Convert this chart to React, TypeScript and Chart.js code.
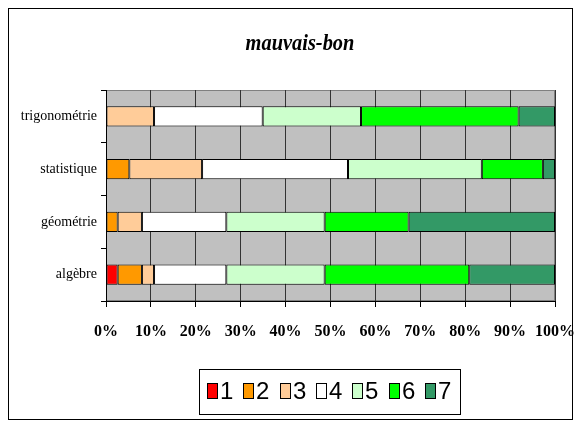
import React, { useEffect, useRef } from "react";
import { Chart, registerables } from "chart.js";

Chart.register(...registerables);

const categories = ["trigonométrie", "statistique", "géométrie", "algèbre"];
const seriesLabels = ["1", "2", "3", "4", "5", "6", "7"];
const seriesColors = ["#FF0000", "#FF9900", "#FFCC99", "#FFFFFF", "#CCFFCC", "#00FF00", "#339966"];
const s1 = [null, null, null, 2.6];
const s2 = [null, 5.2, 2.6, 5.4];
const s3 = [10.7, 16.2, 5.4, 2.7];
const s4 = [24.2, 32.5, 18.8, 16.1];
const s5 = [21.9, 29.8, 21.9, 21.9];
const s6 = [35.1, 13.6, 18.7, 32.2];
const s7 = [8.1, 2.7, 32.6, 19.1];
const seriesValues = [s1, s2, s3, s4, s5, s6, s7];
const xTicks = [0, 10, 20, 30, 40, 50, 60, 70, 80, 90, 100];
const titleText = "mauvais-bon";

const plotBg = {
  id: "plotBg",
  beforeDraw(chart: any) {
    const { ctx, chartArea: a } = chart;
    ctx.save();
    ctx.fillStyle = "#C0C0C0";
    ctx.fillRect(a.left, a.top, a.right - a.left, a.bottom - a.top);
    ctx.strokeStyle = "#808080";
    ctx.lineWidth = 1;
    ctx.strokeRect(a.left + 0.5, a.top + 0.5, a.right - a.left - 1, a.bottom - a.top - 1);
    ctx.restore();
  },
};

const frameTitleLegend = {
  id: "frameTitleLegend",
  afterDraw(chart: any) {
    const ctx = chart.ctx;
    ctx.save();
    ctx.strokeStyle = "#000";
    ctx.lineWidth = 1;
    ctx.strokeRect(8.5, 8.5, 564, 411);
    // title (slightly condensed)
    ctx.save();
    ctx.translate(300, 44);
    ctx.scale(0.85, 1);
    ctx.font = "italic bold 24px 'Liberation Serif', serif";
    ctx.textAlign = "center";
    ctx.textBaseline = "middle";
    ctx.fillStyle = "#000";
    ctx.fillText(titleText, 0, 0);
    ctx.restore();
    // legend box
    ctx.strokeRect(199.5, 369.5, 261, 45);
    ctx.font = "24px 'Liberation Sans', Arial, sans-serif";
    ctx.textBaseline = "middle";
    ctx.textAlign = "left";
    chart.data.datasets.forEach((ds: any, i: number) => {
      const bx = Math.round(207 + 36.3 * i);
      ctx.fillStyle = ds.backgroundColor;
      ctx.fillRect(bx, 383, 11, 16);
      ctx.strokeStyle = "#000";
      ctx.strokeRect(bx + 0.5, 383.5, 10, 15);
      ctx.fillStyle = "#000";
      ctx.fillText(ds.label, bx + 13, 392);
    });
    ctx.restore();
  },
};

export default function App() {
  const ref = useRef<HTMLCanvasElement>(null);
  useEffect(() => {
    if (!ref.current) return;
    const chart = new Chart(ref.current, {
      type: "bar",
      data: {
        labels: categories,
        datasets: seriesValues.map((vals, i) => ({
          label: seriesLabels[i],
          data: vals,
          backgroundColor: seriesColors[i],
          borderColor: "#000",
          borderWidth: 1,
          borderSkipped: false,
          barPercentage: 0.38,
          categoryPercentage: 1,
        })),
      },
      options: {
        indexAxis: "y",
        animation: false,
        responsive: false,
        layout: { padding: { left: 0, right: 26, top: 90, bottom: 80 } },
        plugins: {
          legend: { display: false },
          tooltip: { enabled: false },
          title: { display: false },
        },
        scales: {
          x: {
            stacked: true,
            min: 0,
            max: 100,
            afterBuildTicks: (scale: any) => {
              scale.ticks = xTicks.map((v) => ({ value: v }));
            },
            afterFit: (scale: any) => {
              scale.height = 40;
              scale.paddingLeft = 0;
              scale.paddingRight = 0;
            },
            grid: { color: "#333", tickColor: "#000", tickLength: 6, lineWidth: 1 },
            border: { display: true, color: "#000" },
            ticks: {
              color: "#000",
              padding: 15,
              maxRotation: 0,
              autoSkip: false,
              font: { family: "'Liberation Serif', serif", size: 16, weight: "bold" },
              callback: (v: any) => v + "%",
            },
          },
          y: {
            stacked: true,
            afterFit: (scale: any) => {
              scale.width = 106;
              scale.paddingTop = 0;
              scale.paddingBottom = 0;
            },
            grid: { drawOnChartArea: false, color: "#000", tickLength: 5 },
            border: { display: true, color: "#000" },
            ticks: {
              color: "#000",
              padding: 4,
              font: { family: "'Liberation Serif', serif", size: 14 },
            },
          },
        },
      },
      plugins: [plotBg, frameTitleLegend],
    });
    return () => chart.destroy();
  }, []);
  return (
    <div style={{ position: "fixed", left: 0, top: 0, width: 581, height: 421, background: "#fff" }}>
      <canvas ref={ref} width={581} height={421} style={{ display: "block", width: 581, height: 421 }} />
    </div>
  );
}
